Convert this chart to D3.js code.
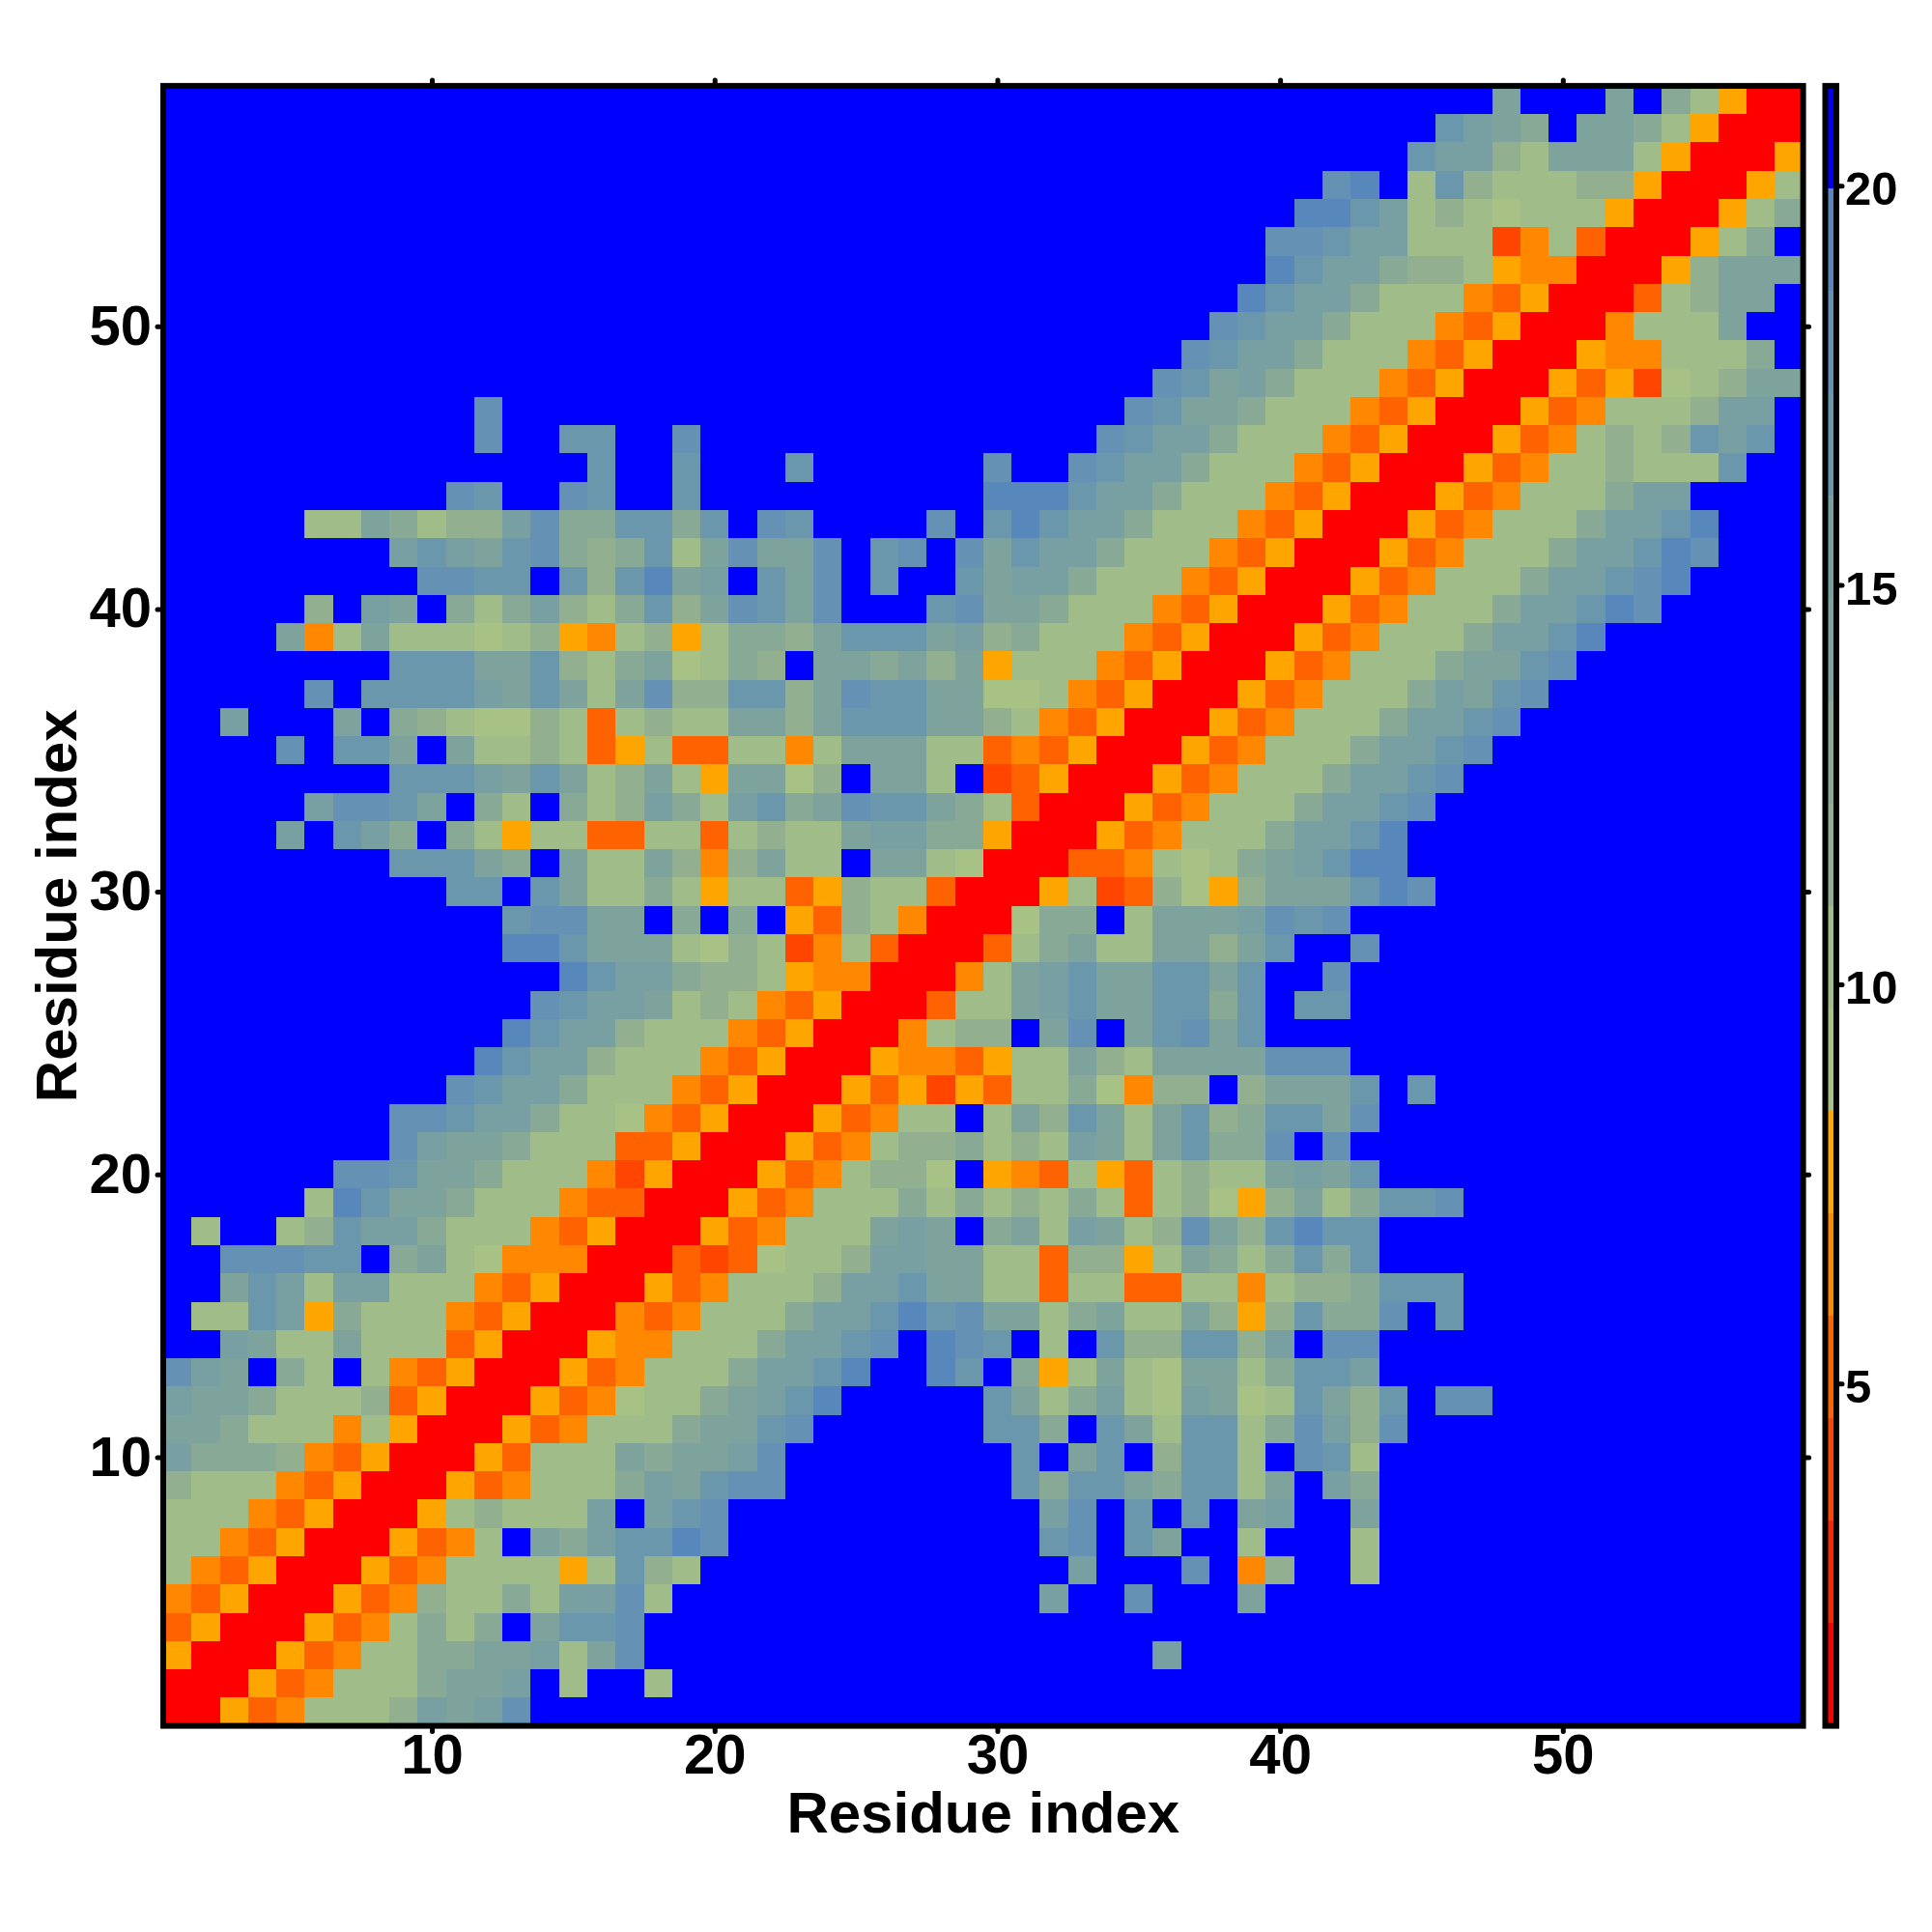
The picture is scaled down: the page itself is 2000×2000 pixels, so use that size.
<!DOCTYPE html>
<html>
<head>
<meta charset="utf-8">
<script src="https://cdn.jsdelivr.net/npm/d3@7/dist/d3.min.js"></script>
<style>
html,body{margin:0;padding:0;background:#fff}
svg{display:block}
text{font-family:"Liberation Sans",Arial,sans-serif;font-weight:bold;fill:#000}
</style>
</head>
<body>
<script>
// Colour level of each cell, one hex digit per residue pair (0 = closest .. f = farthest).
// The map is symmetric: row n (residue n) lists columns up to the diagonal, leading blue cells omitted.
const levelRows = [
"0","00","500","3500","43500","743500","7743500","77743500","877743500","b999843500",
"aa977747500","baa977783500","dbaf97f743500","ffba77a7773500","f77cb5977743500",
"ffacb7bb77743500","ffdddccf9a7644400","f7ff78cbb977743500","fffff7ecaa977743300",
"ddcaa977742500",
"dbaa977733500",
"ddcbb977643500",
"dcbb977743500",
"ecbb877743500",
"ecbb877743500",
"dcbba78743500",
"ecbb988754400",
"eecaaa 7687 2473 00",
"cdd aa f9f9f 53 874 00",
"ccfca 77975 77 358773 00",
"ccca9fa 77a84 8a77 faa76 00",
"bfcb9f 97577 33773 7877 abb99 5 00",
"bddca f97f9 78b97 bc9ad cca97 3 00",
"cc cbaca 78a75 aa68f aa7f2 35 00",
"dfcca f a7787 35733 7747a aa773 435 00",
"bfff af98 76687 37877 aa8ac ccaa8 7435 00",
"dfccc cbaca 7ad88 cc8ad ccaa6 67435 00",
"cc caac8 79a67 98faa 9a8a5 7774 35 00",
"a47a77 76785 47857 998ac ccab8 97774 35 00",
"8fbaf 979b8 79c8a dcadf ffcda a9777 435 00",
"d dccfc 8ceab fcadf cffca bb977 7435 00",
"bc bacd9 89c7a daadf cdfda cbb97 77435 00",
"77a97 88bd9 9cc9c fdcff ffdfc ecbb9 777 435 00",
"dcffd cffcf fffffffff e eecbb 9777 435 00",
"cffc fff c ffffff dffdc bb9 777 435 00",
"d ff cc ff d ffffffffffffff dcbb9 777 435 00",
"d ffffffffffffffffffffff dcaa9 777 435 00",
"dcab9 777 435 00",
"dcbb9 777 435 00",
"dcbb9 777 435 00",
"ecbb9 777 435 00",
"ecbb9 887 544 00",
"ddcbb 777 2473 00",
"eecb7 876 777 5 00",
"def7c 8 777 88 5 00",
"cbb87 aaa7 5 00",
"cba9f aa97 5 00",
"a fff a f 975 00"
];

const residueTicks = [10, 20, 30, 40, 50];
const barTicks = [5, 10, 15, 20];
const axisTitle = "Residue index";
const palette = ["#ff0000","#ff2400","#ff4500","#ff6200","#ff8800","#ffa500",
  "#a8c184","#a0bc88","#92b090","#88a996","#7ea29c","#78a0a2","#6a97ac","#6491b4","#5787bb","#0000ff"];
const valueRange = [0.714, 21.25];
const residueRange = [0.5, 58.5];

// Plot geometry
const L = 169, R = 1866.6, T = 88.9, B = 1786.6;
const BL = 1889.5, BR = 1901;

const svg = d3.select("body").append("svg").attr("width", 2000).attr("height", 2000);

const x = d3.scaleLinear().domain(residueRange).range([L, R]);
const y = d3.scaleLinear().domain(residueRange).range([B, T]);
const color = d3.scaleQuantize().domain(valueRange).range(palette);
const barY = d3.scaleLinear().domain(valueRange).range([B, T]);

const step = (valueRange[1] - valueRange[0]) / palette.length;
const levelValue = ch => valueRange[0] + (parseInt(ch, 16) + 0.5) * step;

// Expand the rows into cells
const triangle = levelRows.map((s, i) => s.replace(/ /g, "").padStart(i + 1, "f"));
const cells = [];
triangle.forEach((s, i) => {
  for (let j = 0; j <= i; j++) {
    const v = levelValue(s[j] || "f");
    cells.push({ col: j + 1, row: i + 1, v });
    if (i !== j) cells.push({ col: i + 1, row: j + 1, v });
  }
});

svg.append("g").attr("shape-rendering", "crispEdges").selectAll("rect").data(cells).join("rect")
  .attr("x", d => x(d.col - 0.5))
  .attr("y", d => y(d.row + 0.5))
  .attr("width", d => x(d.col + 0.5) - x(d.col - 0.5))
  .attr("height", d => y(d.row - 0.5) - y(d.row + 0.5))
  .attr("fill", d => color(d.v));

// Axes
function styleAxis(g, fs) {
  g.select(".domain").remove();
  g.selectAll(".tick line").attr("stroke", "#000").attr("stroke-width", 5).attr("stroke-linecap", "round");
  g.selectAll(".tick text").attr("font-size", fs);
}
const tickLen = 6;
svg.append("g").attr("transform", `translate(0,${B})`)
  .call(d3.axisBottom(x).tickValues(residueTicks).tickSize(tickLen).tickPadding(2).tickFormat(d3.format("d")))
  .call(styleAxis, 58);
svg.append("g").attr("transform", `translate(0,${T})`)
  .call(d3.axisTop(x).tickValues(residueTicks).tickSize(tickLen).tickFormat(""))
  .call(styleAxis, 58);
svg.append("g").attr("transform", `translate(${L},0)`)
  .call(d3.axisLeft(y).tickValues(residueTicks).tickSize(tickLen).tickPadding(6).tickFormat(d3.format("d")))
  .call(styleAxis, 58);
svg.append("g").attr("transform", `translate(${R},0)`)
  .call(d3.axisRight(y).tickValues(residueTicks).tickSize(tickLen).tickFormat(""))
  .call(styleAxis, 58);

svg.append("rect").attr("x", L).attr("y", T).attr("width", R - L).attr("height", B - T)
  .attr("fill", "none").attr("stroke", "#000").attr("stroke-width", 6);

svg.append("text").attr("x", (L + R) / 2).attr("y", 1897).attr("text-anchor", "middle")
  .attr("font-size", 60).text(axisTitle);
svg.append("text").attr("transform", `translate(79,${(T + B) / 2}) rotate(-90)`).attr("text-anchor", "middle")
  .attr("font-size", 60).text(axisTitle);

// Colour bar
svg.append("g").attr("shape-rendering", "crispEdges").selectAll("rect").data(palette).join("rect")
  .attr("x", BL).attr("width", BR - BL)
  .attr("y", (d, i) => barY(valueRange[0] + (i + 1) * step))
  .attr("height", (d, i) => barY(valueRange[0] + i * step) - barY(valueRange[0] + (i + 1) * step))
  .attr("fill", d => d);
svg.append("rect").attr("x", BL).attr("y", T).attr("width", BR - BL).attr("height", B - T)
  .attr("fill", "none").attr("stroke", "#000").attr("stroke-width", 6);
svg.append("g").attr("transform", `translate(${BR},0)`)
  .call(d3.axisRight(barY).tickValues(barTicks).tickSize(tickLen).tickPadding(3).tickFormat(d3.format("d")))
  .call(styleAxis, 49)
  .call(g => g.selectAll(".tick text").attr("dy", "0.40em"));
</script>
</body>
</html>
